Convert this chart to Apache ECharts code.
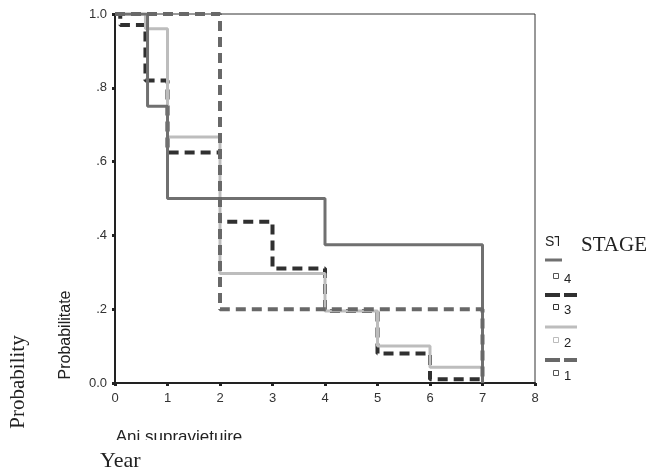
<!DOCTYPE html>
<html>
<head>
<meta charset="utf-8">
<script src="https://cdn.jsdelivr.net/npm/echarts@6/dist/echarts.min.js"></script>
<style>
  html, body { margin: 0; padding: 0; background: #fff; }
  #chart { width: 649px; height: 471px; }
</style>
</head>
<body>
<div id="chart"></div>
<script>
// survival steps per stage
const stage4Years = [0, 0.62, 1, 4, 7];
const stage4Surv = [1, 0.75, 0.5, 0.375, 0];

const stage3Years = [0, 0.1, 0.58, 1, 2, 3, 4, 5, 6, 7];
const stage3Surv = [1, 0.97, 0.82, 0.625, 0.437, 0.31, 0.195, 0.08, 0.01, 0];

const stage2Years = [0, 0.58, 1, 2, 4, 5, 6, 7];
const stage2Surv = [1, 0.96, 0.667, 0.297, 0.195, 0.1, 0.043, 0];

const stage1Years = [0, 2, 7];
const stage1Surv = [1, 0.2, 0];

const yTickLabels = ["0.0", ".2", ".4", ".6", ".8", "1.0"];
const legendLabels = ["4", "3", "2", "1"];

const sans = "Liberation Sans";
const serif = "Liberation Serif";

const pairs = (xs, ys) => xs.map((x, i) => [x, ys[i]]);

const chart = echarts.init(document.getElementById("chart"), null, { renderer: "canvas" });

const stepSeries = (name, xs, ys, color, width, dashed, z) => ({
  name: name,
  type: "line",
  step: "end",
  data: pairs(xs, ys),
  showSymbol: false,
  symbol: "none",
  silent: true,
  z: z,
  lineStyle: {
    color: color,
    width: width,
    type: dashed ? [10, 6] : "solid",
    cap: "butt",
  },
});

// legend drawn by hand, SPSS style: line sample above a tiny square + label
const legendRows = [
  { lineY: 260, boxY: 276, color: "#707070", width: 3, dashed: false, x2: 562, box: "#555" },
  { lineY: 295, boxY: 307, color: "#303030", width: 4, dashed: true, x2: 577, box: "#333" },
  { lineY: 327, boxY: 340, color: "#bdbdbd", width: 3, dashed: false, x2: 577, box: "#bbb" },
  { lineY: 360, boxY: 373, color: "#686868", width: 4, dashed: true, x2: 577, box: "#555" },
];

const legendGraphics = [];
legendRows.forEach((r, i) => {
  legendGraphics.push({
    type: "line",
    shape: { x1: 545, y1: r.lineY, x2: r.x2, y2: r.lineY },
    style: { stroke: r.color, lineWidth: r.width, lineDash: r.dashed ? [15, 4] : null },
  });
  legendGraphics.push({
    type: "rect",
    shape: { x: 553.5, y: r.boxY - 2.5, width: 5, height: 5 },
    style: { fill: "#fff", stroke: r.box, lineWidth: 1 },
  });
  legendGraphics.push({
    type: "text",
    x: 564,
    y: r.boxY + 3,
    style: {
      text: legendLabels[i], font: "13px " + sans, fill: "#222",
      align: "left", textAlign: "left", verticalAlign: "middle", textVerticalAlign: "middle",
    },
  });
});

const textEl = (text, x, y, font, rotation, align) => ({
  type: "text",
  x: x,
  y: y,
  rotation: rotation || 0,
  z: 10,
  style: {
    text: text, font: font, fill: "#222",
    align: align || "center", textAlign: align || "center",
    verticalAlign: "middle", textVerticalAlign: "middle",
  },
});

const option = {
  animation: false,
  backgroundColor: "#fff",
  grid: {
    left: 115,
    top: 14,
    right: 114,
    bottom: 88,
    show: true,
    borderColor: "#333",
    borderWidth: 1,
    backgroundColor: "transparent",
  },
  xAxis: {
    type: "value",
    min: 0,
    max: 8,
    interval: 1,
    splitLine: { show: false },
    axisLine: { show: true, onZero: false, lineStyle: { color: "#222", width: 2 } },
    axisTick: { show: true, length: 3, lineStyle: { color: "#222", width: 3 } },
    axisLabel: { margin: 9, color: "#333", fontFamily: sans, fontSize: 13 },
  },
  yAxis: {
    type: "value",
    min: 0,
    max: 1,
    interval: 0.2,
    splitLine: { show: false },
    axisLine: { show: true, onZero: false, lineStyle: { color: "#222", width: 2 } },
    axisTick: { show: true, length: 3, lineStyle: { color: "#222", width: 3 } },
    axisLabel: {
      margin: 8,
      color: "#333",
      fontFamily: sans,
      fontSize: 13,
      formatter: (v) => yTickLabels[Math.round(v / 0.2)],
    },
  },
  series: [
    stepSeries("3", stage3Years, stage3Surv, "#303030", 4, true, 2),
    stepSeries("2", stage2Years, stage2Surv, "#bdbdbd", 3, false, 3),
    stepSeries("4", stage4Years, stage4Surv, "#707070", 3, false, 4),
    stepSeries("1", stage1Years, stage1Surv, "#686868", 4, true, 5),
  ],
  graphic: [
    textEl("Probabilitate", 66, 335, "16px " + sans, Math.PI / 2),
    textEl("Probability", 18, 382, "21px " + serif, Math.PI / 2),
    textEl("Ani supravietuire", 179, 437, "17px " + sans),
    // bottom of the caption is cut off in the original
    { type: "rect", z: 11, shape: { x: 100, y: 440, width: 180, height: 11 }, style: { fill: "#fff" } },
    textEl("Year", 100, 461, "22px " + serif, 0, "left"),
    textEl("ST", 545, 242, "14px " + sans, 0, "left"),
    { type: "rect", z: 11, shape: { x: 559, y: 232, width: 6, height: 20 }, style: { fill: "#fff" } },
    textEl("STAGE", 581, 245, "21px " + serif, 0, "left"),
  ].concat(legendGraphics),
};

chart.setOption(option);
</script>
</body>
</html>
